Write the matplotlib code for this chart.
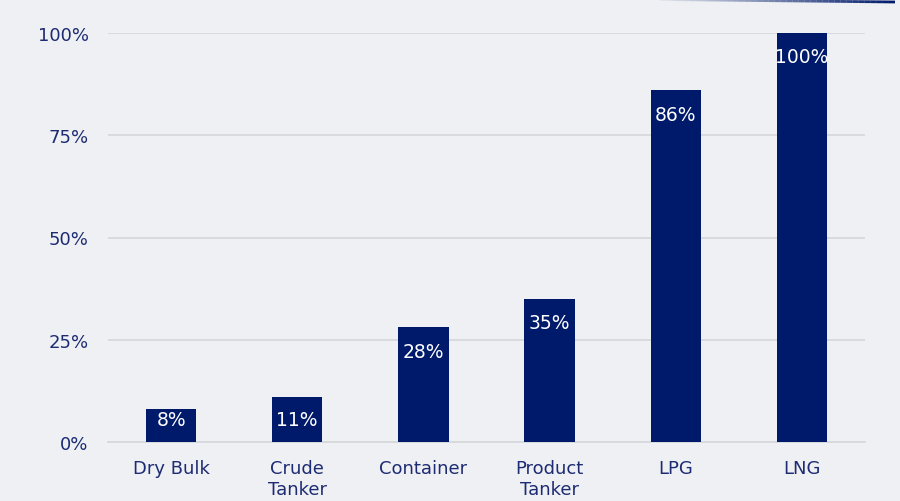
import matplotlib
matplotlib.use("Agg")
import matplotlib.pyplot as plt
from matplotlib.collections import LineCollection
import numpy as np

categories = ["Dry Bulk", "Crude\nTanker", "Container", "Product\nTanker", "LPG", "LNG"]
values = [8, 11, 28, 35, 86, 100]
yticks = [0, 25, 50, 75, 100]
ytick_labels = ["0%", "25%", "50%", "75%", "100%"]

BG = "#eef0f3"
BAR = "#001a6b"
TXT = "#1d2b73"
GRID = "#d6d8dc"

fig = plt.figure(figsize=(9, 5.02), dpi=100, facecolor=BG)
ax = fig.add_axes([0.12, 59/502, 0.9611 - 0.12, (468 - 59)/502])
ax.set_facecolor(BG)

x = np.arange(len(categories))
bars = ax.bar(x, values, width=0.4, color=BAR, zorder=3)

ax.set_xlim(-0.5, len(categories) - 0.5)
ax.set_ylim(0, 100)
ax.set_yticks(yticks)
ax.set_yticklabels(ytick_labels)
ax.set_xticks(x)
ax.set_xticklabels(categories)
ax.tick_params(axis="both", length=0, colors=TXT, labelsize=13)
ax.tick_params(axis="y", pad=14)
ax.tick_params(axis="x", pad=12.5)
ax.grid(axis="y", color=GRID, linewidth=1.3, zorder=0)
for s in ["top", "right", "left"]:
    ax.spines[s].set_visible(False)
ax.spines["bottom"].set_color(GRID)
ax.spines["bottom"].set_linewidth(1.3)

# labels inside bars near top
px_per_unit = 409 / 100
off = 24 / px_per_unit
floor = 22 / px_per_unit
for xi, v in zip(x, values):
    yl = max(v - off, floor)
    ax.text(xi, yl, f"{v}%", ha="center", va="center", color="white",
            fontsize=13.5, zorder=4)

# decorative line top-right
n = 40
xs = np.linspace(660/900, 895/900, n)
ys = np.linspace(1 - 0.5/502, 1 - 3/502, n)
pts = np.array([xs, ys]).T.reshape(-1, 1, 2)
segs = np.concatenate([pts[:-1], pts[1:]], axis=1)
alphas = np.linspace(0.05, 1, n - 1)
cols = [(0.0, 0.1, 0.42, a) for a in alphas]
lc = LineCollection(segs, colors=cols, linewidths=2.0, transform=fig.transFigure)
fig.add_artist(lc)

fig.savefig("out.png", dpi=100, facecolor=BG)
